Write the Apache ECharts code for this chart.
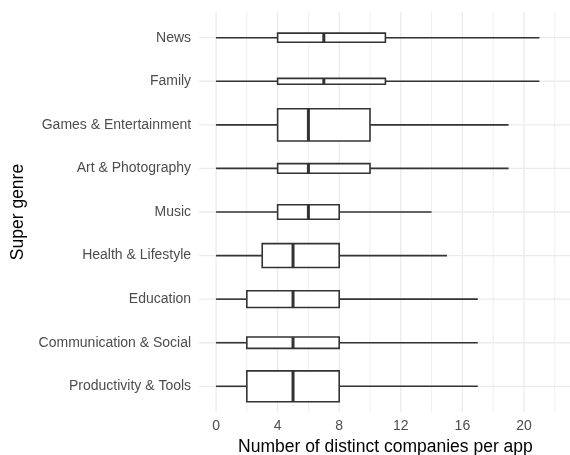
<!DOCTYPE html>
<html>
<head>
<meta charset="utf-8">
<script src="https://cdn.jsdelivr.net/npm/echarts@6/dist/echarts.min.js"></script>
<style>
html,body{margin:0;padding:0;background:#fff;overflow:hidden;}
#chart{width:570px;height:455px;}
</style>
</head>
<body>
<div id="chart"></div>
<script>
// Categories listed top to bottom
const categories = ["News","Family","Games & Entertainment","Art & Photography","Music","Health & Lifestyle","Education","Communication & Social","Productivity & Tools"];
const whiskerLow  = [0, 0, 0, 0, 0, 0, 0, 0, 0];
const q1          = [4, 4, 4, 4, 4, 3, 2, 2, 2];
const median      = [7, 7, 6, 6, 6, 5, 5, 5, 5];
const q3          = [11, 11, 10, 10, 8, 8, 8, 8, 8];
const whiskerHigh = [21, 21, 19, 19, 14, 15, 17, 17, 17];
// relative box thickness (varwidth), in category units
const boxWidth    = [0.21, 0.135, 0.74, 0.22, 0.33, 0.55, 0.385, 0.26, 0.71];

const xTickLabels = [0, 4, 8, 12, 16, 20];
const xMinorBreaks = [2, 6, 10, 14, 18, 22];
const catIndex = categories.map((c, i) => i);

const FONT = "'Liberation Sans', Arial, Helvetica, sans-serif";

const boxData = categories.map((c, i) => [i, whiskerLow[i], q1[i], median[i], q3[i], whiskerHigh[i], boxWidth[i]]);

function gridSeries(values, vertical, width) {
  return {
    type: 'custom',
    silent: true,
    z: 1,
    clip: true,
    data: values.map(v => [v]),
    renderItem: function (params, api) {
      const cs = params.coordSys;
      const v = api.value(0);
      let shape;
      if (vertical) {
        const x = api.coord([v, 0])[0];
        shape = {x1: x, y1: cs.y, x2: x, y2: cs.y + cs.height};
      } else {
        const y = api.coord([0, v])[1];
        shape = {x1: cs.x, y1: y, x2: cs.x + cs.width, y2: y};
      }
      return {type: 'line', shape: shape, style: {stroke: '#ebebeb', lineWidth: width}};
    }
  };
}

const chart = echarts.init(document.getElementById('chart'), null, {renderer: 'canvas'});
chart.setOption({
  animation: false,
  backgroundColor: '#ffffff',
  grid: {left: 199.1, top: 11.55, width: 372.6, height: 400.9, containLabel: false, outerBoundsMode: 'none'},
  xAxis: {
    type: 'value',
    min: -1.1, max: 23.1,
    name: 'Number of distinct companies per app',
    nameLocation: 'middle',
    nameGap: 25.5,
    nameTextStyle: {fontFamily: FONT, fontSize: 17.5, color: '#000000'},
    axisLine: {show: false},
    axisTick: {show: false},
    splitLine: {show: false},
    axisLabel: {
      customValues: xTickLabels,
      fontFamily: FONT, fontSize: 14, color: '#4d4d4d', margin: 7,
      formatter: v => String(v)
    }
  },
  yAxis: {
    type: 'value',
    inverse: true,
    min: -0.6, max: 8.6,
    name: 'Super genre',
    nameLocation: 'middle',
    nameRotate: 90,
    nameGap: 171.5,
    nameTextStyle: {fontFamily: FONT, fontSize: 17.5, color: '#000000'},
    axisLine: {show: false},
    axisTick: {show: false},
    splitLine: {show: false},
    axisLabel: {
      customValues: catIndex,
      fontFamily: FONT, fontSize: 14, color: '#4d4d4d', margin: 8,
      formatter: v => categories[Math.round(v)] || ''
    }
  },
  series: [
    gridSeries(xMinorBreaks, true, 0.8),
    gridSeries(xTickLabels, true, 1.3),
    gridSeries(catIndex, false, 1.3),
    {
      type: 'custom',
      z: 3,
      data: boxData,
      renderItem: function (params, api) {
        const i = api.value(0);
        const lo = api.coord([api.value(1), i]);
        const b1 = api.coord([api.value(2), i]);
        const md = api.coord([api.value(3), i]);
        const b3 = api.coord([api.value(4), i]);
        const hi = api.coord([api.value(5), i]);
        const h = Math.abs(api.size([0, api.value(6)])[1]);
        const yc = lo[1];
        const stroke = '#333333';
        return {
          type: 'group',
          children: [
            {type: 'line', shape: {x1: lo[0], y1: yc, x2: b1[0], y2: yc}, style: {stroke: stroke, lineWidth: 1.6}},
            {type: 'line', shape: {x1: b3[0], y1: yc, x2: hi[0], y2: yc}, style: {stroke: stroke, lineWidth: 1.6}},
            {type: 'rect', shape: {x: b1[0], y: yc - h / 2, width: b3[0] - b1[0], height: h}, style: {fill: '#ffffff', stroke: stroke, lineWidth: 1.6}},
            {type: 'line', shape: {x1: md[0], y1: yc - h / 2, x2: md[0], y2: yc + h / 2}, style: {stroke: stroke, lineWidth: 3}}
          ]
        };
      }
    }
  ]
});
</script>
</body>
</html>
